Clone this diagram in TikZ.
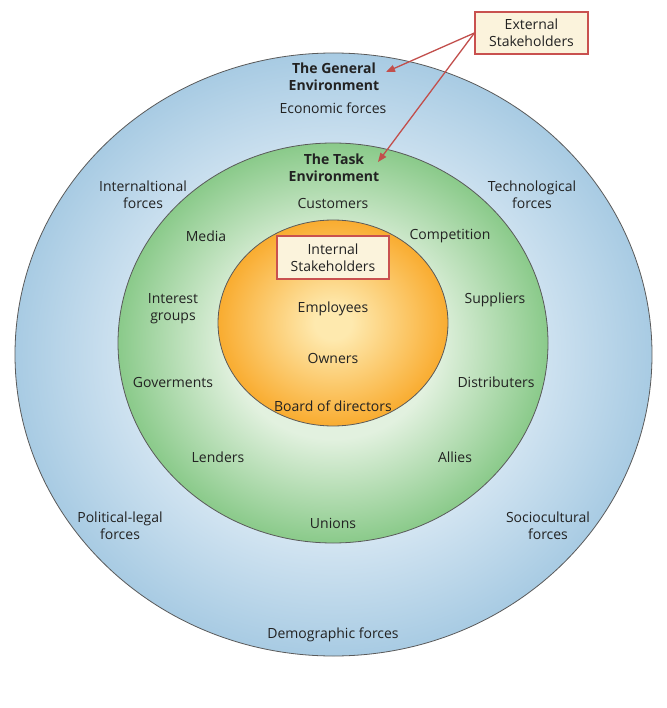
\documentclass[tikz,border=0pt]{standalone}
\usepackage{fontspec}
\setmainfont{Open Sans}
\usetikzlibrary{shapes.geometric,arrows.meta}
\definecolor{blueL}{HTML}{DAE9F4}
\definecolor{blueD}{HTML}{A8CBE3}
\definecolor{greenL}{HTML}{E2F1DF}
\definecolor{greenD}{HTML}{8ACA8A}
\definecolor{orL}{HTML}{FEE9AE}
\definecolor{orD}{HTML}{F9AC30}
\definecolor{boxfill}{HTML}{FBF3DC}
\definecolor{boxred}{HTML}{C9514F}
\definecolor{arrred}{HTML}{C24F4C}
\definecolor{txt}{HTML}{222222}
\definecolor{rim}{HTML}{5A5A5A}
\pgfdeclareradialshading{blueshade}{\pgfpointorigin}{color(0bp)=(blueL); color(14bp)=(blueL); color(25bp)=(blueD); color(50bp)=(blueD)}
\pgfdeclareradialshading{greenshade}{\pgfpointorigin}{color(0bp)=(greenL); color(12bp)=(greenL); color(25bp)=(greenD); color(50bp)=(greenD)}
\pgfdeclareradialshading{orshade}{\pgfpointorigin}{color(0bp)=(orL); color(4bp)=(orL); color(25bp)=(orD); color(50bp)=(orD)}
\tikzset{
  ring/.style={ellipse, draw=rim, line width=0.8pt, inner sep=0pt},
  lbl/.style={font=\fontsize{14}{17}\selectfont, text=txt, align=center, inner sep=0pt},
  head/.style={lbl, font=\fontsize{14}{17}\selectfont\bfseries},
  stake/.style={lbl, draw=boxred, fill=boxfill, line width=1.2pt, minimum width=#1, minimum height=42pt},
  pointer/.style={draw=arrred, line width=1.3pt, -{Triangle[length=9pt,width=7pt]}}
}
\begin{document}
\begin{tikzpicture}[x=1pt,y=-1pt]
\useasboundingbox (0,0) rectangle (666,708);
\fill[white] (0,0) rectangle (666,708);
\node[ring, shading=blueshade, minimum width=637pt, minimum height=603pt] (gen) at (333.5,354.5) {};
\node[ring, shading=greenshade, minimum width=430pt, minimum height=400pt] (task) at (333,343) {};
\node[ring, shading=orshade, minimum width=230pt, minimum height=206pt] (core) at (333,323) {};

\node[stake=113pt] (ext) at (531.5,33) {External\\Stakeholders};
\node[stake=112pt, minimum height=43pt] (int) at (333,257.5) {Internal\\Stakeholders};

\node[head] (genT) at (334,77) {The General\\Environment};
\node[lbl] (econ) at (333,108) {Economic forces};
\node[head] (taskT) at (334,168) {The Task\\Environment};
\node[lbl] (cust) at (333,204) {Customers};
\node[lbl] (intl) at (143,194.5) {Internaltional\\forces};
\node[lbl] (tech) at (532,194.5) {Technological\\forces};
\node[lbl] (media) at (206,236) {Media};
\node[lbl] (comp) at (450,236) {Competition};
\node[lbl] (igrp) at (173,308.5) {Interest\\groups};
\node[lbl] (supp) at (495,300) {Suppliers};
\node[lbl] (emp) at (333,309) {Employees};
\node[lbl] (own) at (333,358) {Owners};
\node[lbl] (gov) at (173,382) {Goverments};
\node[lbl] (dist) at (496,382) {Distributers};
\node[lbl] (board) at (333,406) {Board of directors};
\node[lbl] (lend) at (218,457) {Lenders};
\node[lbl] (ally) at (455,457) {Allies};
\node[lbl] (pol) at (120,525.5) {Political-legal\\forces};
\node[lbl] (uni) at (333,523) {Unions};
\node[lbl] (soc) at (548,525.5) {Sociocultural\\forces};
\node[lbl] (demo) at (333,635) {Demographic forces};

\coordinate (genEnd) at (386,72);
\coordinate (taskEnd) at (378,162);
\draw[pointer] (ext.west) -- (genEnd);
\draw[pointer] (ext.west) -- (taskEnd);
\end{tikzpicture}
\end{document}
